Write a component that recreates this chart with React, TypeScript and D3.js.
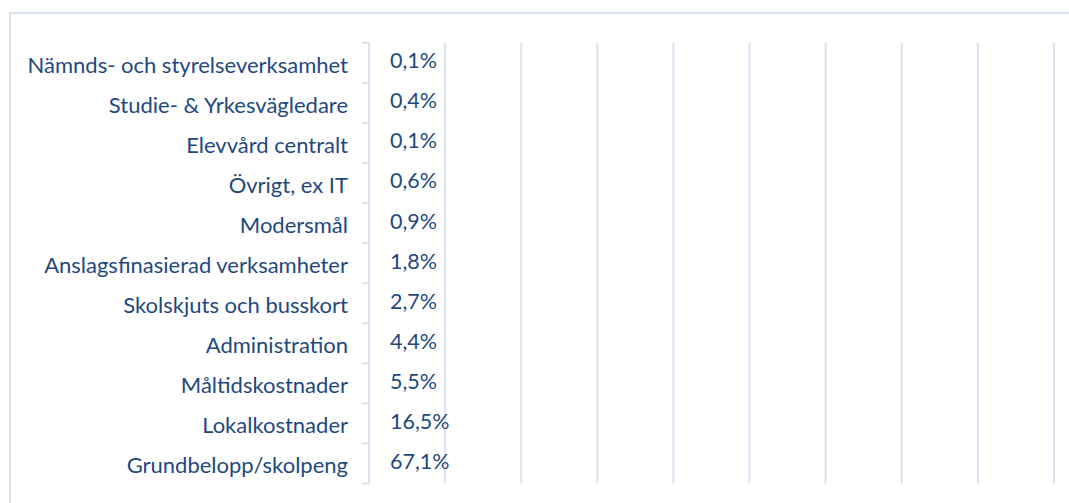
import React from "react";
import * as d3 from "d3";

const categories = [
  "Nämnds- och styrelseverksamhet",
  "Studie- & Yrkesvägledare",
  "Elevvård centralt",
  "Övrigt, ex IT",
  "Modersmål",
  "Anslagsfinasierad verksamheter",
  "Skolskjuts och busskort",
  "Administration",
  "Måltidskostnader",
  "Lokalkostnader",
  "Grundbelopp/skolpeng",
];
const values = [0.1, 0.4, 0.1, 0.6, 0.9, 1.8, 2.7, 4.4, 5.5, 16.5, 67.1];
const valueLabels = ["0,1%", "0,4%", "0,1%", "0,6%", "0,9%", "1,8%", "2,7%", "4,4%", "5,5%", "16,5%", "67,1%"];
const gridTicks = [0, 10, 20, 30, 40, 50, 60, 70, 80, 90, 100];

const W = 1069;
const H = 503;
const TEXT = "#1F497D";
const GRID = "#D9E2F3";
const FONT = "Lato, 'Open Sans', sans-serif";

export default function App() {
  const axisX = 369;
  const x = d3.scaleLinear().domain([0, 100]).range([axisX, axisX + 761]);
  const y = d3.scaleBand<string>().domain(categories).range([42.7, 483.5]).paddingInner(0).paddingOuter(0);
  const bw = y.bandwidth();
  const boundaries = d3.range(categories.length + 1).map((i) => 42.7 + i * bw);

  return (
    <svg
      width={W}
      height={H}
      style={{ position: "fixed", left: 0, top: 0, display: "block", background: "#fff" }}
    >
      <rect x={0} y={0} width={W} height={H} fill="#fff" />
      {/* chart border */}
      <rect x={10} y={13} width={1200} height={700} fill="none" stroke={GRID} strokeWidth={2} />
      {/* gridlines */}
      {gridTicks.slice(1).map((t) => (
        <line key={t} x1={x(t)} x2={x(t)} y1={42.7} y2={483.5} stroke={GRID} strokeWidth={2} />
      ))}
      {/* bars (no fill, as in reference) */}
      {categories.map((c, i) => (
        <rect
          key={c}
          x={x(0)}
          y={(y(c) ?? 0) + bw * 0.2}
          width={x(values[i]) - x(0)}
          height={bw * 0.6}
          fill="none"
        />
      ))}
      {/* axis line */}
      <line x1={axisX} x2={axisX} y1={42.7} y2={483.5} stroke={GRID} strokeWidth={2} />
      {boundaries.map((b, i) => (
        <line key={i} x1={axisX - 7} x2={axisX} y1={b} y2={b} stroke={GRID} strokeWidth={2} />
      ))}
      {/* category labels */}
      {categories.map((c) => (
        <text
          key={c}
          x={348}
          y={(y(c) ?? 0) + bw / 2 + 10}
          textAnchor="end"
          fontFamily={FONT}
          fontSize={22}
          fill={TEXT}
        >
          {c}
        </text>
      ))}
      {/* value labels */}
      {categories.map((c, i) => (
        <text
          key={c + "v"}
          x={x(0) + 21}
          y={(y(c) ?? 0) + bw / 2 + 5.5}
          textAnchor="start"
          fontFamily={FONT}
          fontSize={21.5}
          fill={TEXT}
        >
          {valueLabels[i]}
        </text>
      ))}
    </svg>
  );
}
